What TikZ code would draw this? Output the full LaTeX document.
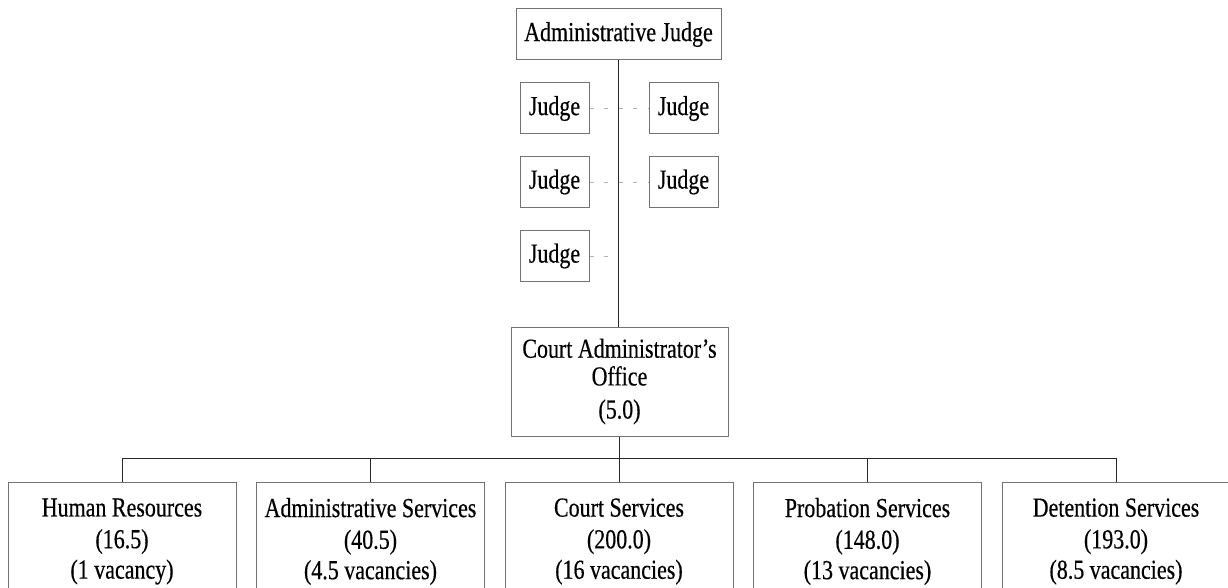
\documentclass[tikz,border=0pt]{standalone}
\usepackage{fontspec}
\setmainfont{Liberation Serif}[FakeStretch=0.8,FakeBold=0.4]
\usepackage{tikz}
\usetikzlibrary{positioning}
\newcommand{\orgfont}{\fontsize{20.6}{22.8}\selectfont}
\tikzset{
	box/.style={draw=black!55,line width=0.75pt,fill=white,inner sep=0pt,align=center,font=\orgfont},
	judgebox/.style={box,minimum width=51.75pt,minimum height=38.25pt},
	unitbox/.style={box,minimum width=171pt,minimum height=88.5pt},
	link/.style={draw=black!85,line width=0.75pt},
	dotlink/.style={draw=black!30,line width=0.6pt,dash pattern=on 3pt off 8pt}
}

\begin{document}
\begin{tikzpicture}[x=0.75pt,y=-0.75pt]
	\useasboundingbox (0,0) rectangle (1228,588);
	\node[box,minimum width=153.75pt,minimum height=38.25pt] (adminjudge) at (618.5,34.5) {Administrative Judge};
	\node[box,minimum width=162.75pt,minimum height=81.75pt] (cao) at (619.5,381.5) {Court Administrator’s\\[-2pt]Office\\[2pt](5.0)};
	\draw[link] (adminjudge.south) -- (cao.north -| adminjudge.south);
	\node[judgebox] (jl1) at (554.5,108.5) {Judge};
	\node[judgebox] (jr1) at (683.5,108.5) {Judge};
	\node[judgebox] (jl2) at (554.5,182) {Judge};
	\node[judgebox] (jr2) at (683.5,182) {Judge};
	\node[judgebox] (jl3) at (554.5,256) {Judge};
	\foreach \j in {jl1,jl2,jl3} \draw[dotlink] (\j.east) -- (\j.east -| adminjudge.south);
	\foreach \j in {jr1,jr2} \draw[dotlink] (\j.west -| adminjudge.south) -- (\j.west);
	\coordinate (bus) at (619.5,458);
	\node[unitbox,anchor=north] (hr) at (122,482) {Human Resources\\[1pt](16.5)\\(1 vacancy)};
	\node[unitbox,anchor=north] (as) at (370.5,482) {Administrative Services\\[1pt](40.5)\\(4.5 vacancies)};
	\node[unitbox,anchor=north] (cs) at (619,482) {Court Services\\[1pt](200.0)\\(16 vacancies)};
	\node[unitbox,anchor=north] (ps) at (867.5,482) {Probation Services\\[1pt](148.0)\\(13 vacancies)};
	\node[unitbox,anchor=north] (ds) at (1116,482) {Detention Services\\[1pt](193.0)\\(8.5 vacancies)};
	\draw[link] (cao.south) -- (bus);
	\foreach \u in {hr,as,cs,ps,ds} \draw[link] (bus) -| (\u.north);
\end{tikzpicture}
\end{document}
